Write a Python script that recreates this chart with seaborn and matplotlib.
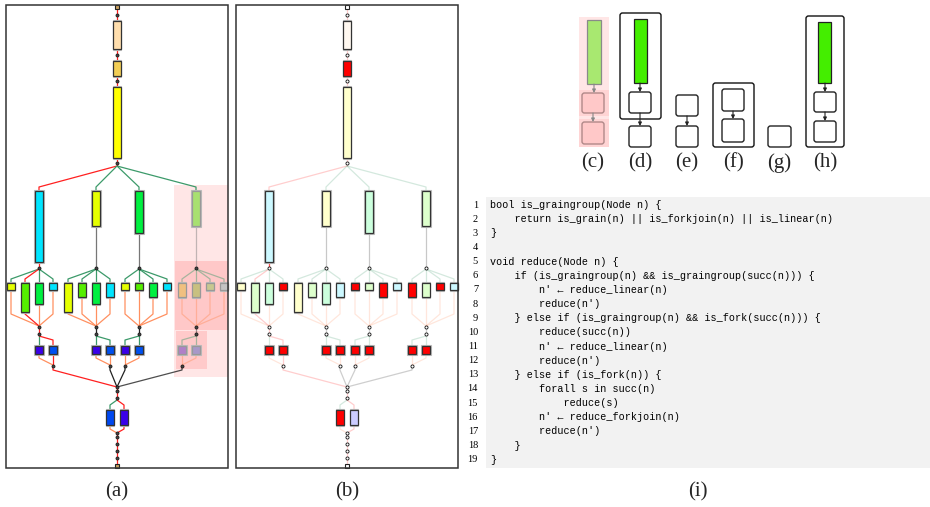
import matplotlib
matplotlib.use("Agg")
import matplotlib.pyplot as plt
import seaborn as sns
import pandas as pd
from matplotlib.patches import Rectangle, FancyBboxPatch, FancyArrowPatch

sns.set_theme(style="white")
plt.rcParams['font.family'] = ['DejaVu Sans']

# ------------------------------------------------------------------ data
PANEL_B_SHIFT = 230
CX = 117
panel_frames = [(6, 5, 228, 468), (236, 5, 458, 468)]
panel_labels = ['(a)', '(b)', '(i)']
panel_label_x = [117, 347, 698]
panel_label_y = 492

top_bar_top = [21, 61, 87]
top_bar_bottom = [49, 76, 158]
top_colors_a = ['#FFDEAD', '#F2CE55', '#FFFF00']
top_colors_b = ['#FFF8F0', '#FF0000', '#FFFFCC']
chain_dots_y = [15, 55, 81, 163]

branch_x = [39, 96, 139, 196]
branch_bottom = [262, 226, 233, 226]
branch_colors_a = ['#00E5FF', '#E5FF00', '#00F040', '#A8E070']
branch_colors_b = ['#CCF8FF', '#FFFFCC', '#CCFFDD', '#DDFFCC']
fork1_edge = ['r', 'g', 'g', 'g']

sub_x = [[11, 25, 39, 53], [68, 82, 96, 110], [125, 139, 153, 167], [182, 196, 210, 224]]
sub_bottom = [[290, 312, 304, 290], [312, 297, 304, 297], [290, 290, 297, 290], [297, 297, 290, 290]]
sub_colors_a = [['#E5FF00', '#55EE00', '#00F040', '#00E5FF'],
                ['#E5FF00', '#55EE00', '#00F040', '#00E5FF'],
                ['#E5FF00', '#55EE00', '#00F040', '#00E5FF'],
                ['#F0C080', '#C8C080', '#C8C890', '#C4C4C4']]
sub_colors_b = [['#FFFFCC', '#DDFFCC', '#CCFFDD', '#FF0000'],
                ['#FFFFCC', '#DDFFCC', '#CCFFDD', '#CCF8FF'],
                ['#FF0000', '#DDFFCC', '#FF0000', '#CCF8FF'],
                ['#FF0000', '#DDFFCC', '#FF0000', '#CCF8FF']]
subfork_edge = [['g', 'r', 'g', 'g'], ['g'] * 4, ['g'] * 4, ['g'] * 4]
subjoin_edge = [['c', 'r', 'c', 'c'], ['c'] * 4, ['c'] * 4, ['c'] * 4]

sq_x = [[39, 53], [96, 110], [125, 139], [182, 196]]
sq_join_x = [53, 110, 125, 182]
sq_colors_a = [['#3A00E8', '#0050F0'], ['#3A00E8', '#0050F0'],
               ['#3A00E8', '#0050F0'], ['#B080C8', '#A898C8']]
sq_colors_b = [['#FF0000', '#FF0000']] * 4
sqfork_edge = [['g', 'r'], ['g', 'g'], ['g', 'g'], ['g', 'g']]
sqjoin_edge = [['c', 'r'], ['c', 'c'], ['c', 'c'], ['c', 'c']]
branch_join_edge = ['r', 'k', 'k', 'k']
mid_edge = ['r', 'k', 'k', 'k']

bot_bar_x = [110, 124]
bot_colors_a = ['#0048F0', '#3A00E8']
bot_colors_b = ['#FF0000', '#CCCCFF']
bottom_dots_y = [391, 398, 433, 437, 444, 451, 458]

highlight_rects = [(174, 185, 228, 377, '#FFE6E6'), (175, 261, 228, 330, '#FFC8C8'),
                   (176, 331, 207, 369, '#FFCACA')]

# small panels (c)-(h)
small_labels = ['(c)', '(d)', '(e)', '(f)', '(g)', '(h)']
small_label_x = [593, 640, 687, 733, 779, 825]
small_label_y = 163
green_bars = [(587, 601, 20, 84, '#A8E870', '#8A8A8A'), (634, 647, 19, 83, '#44EE00', '#222222'),
              (818, 831, 22, 83, '#44EE00', '#222222')]
white_boxes = [(582, 604, 93, 113, '#FFC8C8', '#B08888'), (582, 604, 122, 144, '#FFC8C8', '#B08888'),
               (629, 651, 92, 113, 'white', '#222'), (629, 651, 126, 147, 'white', '#222'),
               (676, 698, 95, 116, 'white', '#222'), (676, 698, 126, 147, 'white', '#222'),
               (722, 744, 89, 111, 'white', '#222'), (722, 744, 119, 142, 'white', '#222'),
               (768, 791, 126, 147, 'white', '#222'),
               (814, 836, 92, 112, 'white', '#222'), (814, 836, 121, 142, 'white', '#222')]
containers = [(620, 661, 13, 119), (713, 754, 83, 147), (806, 844, 16, 147)]
arrows = [(594, 84, 93, '#888'), (593, 113, 122, '#888'), (640, 83, 92, '#222'), (640, 113, 126, '#222'),
          (687, 116, 126, '#222'), (733, 111, 119, '#222'), (825, 83, 92, '#222'), (825, 112, 121, '#222')]
c_pink = [(579, 17, 609, 147, '#FFE6E6'), (579, 90, 609, 116, '#FFD4D4'), (579, 119, 609, 147, '#FFD4D4')]

# code panel (i)
code_lines = [
    "bool is_graingroup(Node n) {",
    "    return is_grain(n) || is_forkjoin(n) || is_linear(n)",
    "}",
    "",
    "void reduce(Node n) {",
    "    if (is_graingroup(n) && is_graingroup(succ(n))) {",
    "        n\u2032 \u2190 reduce_linear(n)",
    "        reduce(n\u2032)",
    "    } else if (is_graingroup(n) && is_fork(succ(n))) {",
    "        reduce(succ(n))",
    "        n\u2032 \u2190 reduce_linear(n)",
    "        reduce(n\u2032)",
    "    } else if (is_fork(n)) {",
    "        forall s in succ(n)",
    "            reduce(s)",
    "        n\u2032 \u2190 reduce_forkjoin(n)",
    "        reduce(n\u2032)",
    "    }",
    "}",
]
code_bg = (486, 197, 930, 468)
code_x = 490
code_y0 = 205
code_dy = 14.15

EDGE_COLORS = {'r': '#FF2020', 'g': '#3C9A6A', 'c': '#FF9060', 'k': '#222222'}

# ------------------------------------------------------------------ figure
fig = plt.figure(figsize=(9.3, 5.07), dpi=100)
ax = fig.add_axes([0, 0, 1, 1])


def poly(xs, ys, key, alpha, lw=0.9, z=1):
    c = EDGE_COLORS.get(key, key)
    ax.plot(xs, ys, color=c, lw=lw, alpha=alpha, zorder=z, solid_joinstyle='round',
            solid_capstyle='butt')


def bar(xc, top, bottom, fc, ec='#333333', w=7.5, alpha=1.0, z=3):
    ax.add_patch(Rectangle((xc - w / 2 - 0.6, top - 0.6), w + 1.2, bottom - top + 1.2,
                           fc='none', ec='#BBBBBB', lw=0.8, zorder=z - 0.1, alpha=alpha))
    ax.add_patch(Rectangle((xc - w / 2, top), w, bottom - top, fc=fc, ec=ec, lw=0.9, zorder=z,
                           alpha=alpha))


for (x0, y0, x1, y1, c) in highlight_rects:
    ax.add_patch(Rectangle((x0, y0), x1 - x0, y1 - y0, fc=c, ec='none', zorder=0))

dots = []
for pi, panel in enumerate(['a', 'b']):
    ox = 0 if panel == 'a' else PANEL_B_SHIFT
    ea = 1.0 if panel == 'a' else 0.22
    cx = CX + ox
    fx0, fy0, fx1, fy1 = panel_frames[pi]
    ax.add_patch(Rectangle((fx0, fy0), fx1 - fx0, fy1 - fy0, fc='none', ec='#333333', lw=1.1, zorder=5))
    ax.text(panel_label_x[pi], panel_label_y, panel_labels[pi], ha='center', va='center',
            fontsize=15, family='Liberation Serif')

    # top chain
    poly([cx, cx], [9, 166], 'r', ea)
    tcols = top_colors_a if panel == 'a' else top_colors_b
    for t, b, c in zip(top_bar_top, top_bar_bottom, tcols):
        bar(cx, t, b, c, w=7.5)
    for y in chain_dots_y:
        dots.append((cx, y, panel))

    bcols = branch_colors_a if panel == 'a' else branch_colors_b
    scols = sub_colors_a if panel == 'a' else sub_colors_b
    qcols = sq_colors_a if panel == 'a' else sq_colors_b
    for i, bx0 in enumerate(branch_x):
        bx = bx0 + ox
        fade = (panel == 'a' and i == 3)
        a_e = 0.45 if fade else ea
        ecol = '#999999' if fade else '#333333'
        poly([cx, bx, bx], [166, 187, 191], fork1_edge[i], ea)
        bar(bx, 191, branch_bottom[i], bcols[i], ec=ecol, w=8)
        link_col = 'r' if i == 0 else ('#777777' if panel == 'a' else '#BBBBBB')
        poly([bx, bx], [branch_bottom[i], 268], link_col, a_e if panel == 'a' else 0.8)
        dots.append((bx, 268, panel))
        for k, sx0 in enumerate(sub_x[i]):
            sx = sx0 + ox
            poly([bx, sx, sx], [269, 279, 283], subfork_edge[i][k], a_e)
            bar(sx, 283, sub_bottom[i][k], scols[i][k], ec=ecol, w=7.5)
            poly([sx, sx, bx], [sub_bottom[i][k], 314, 326], subjoin_edge[i][k], a_e)
        dots.append((bx, 327, panel))
        poly([bx, bx], [327, 336], mid_edge[i], a_e)
        dots.append((bx, 334, panel))
        jx = sq_join_x[i] + ox
        for k, qx0 in enumerate(sq_x[i]):
            qx = qx0 + ox
            poly([bx, qx, qx], [336, 340, 346], sqfork_edge[i][k], a_e)
            bar(qx, 346, 354, qcols[i][k], ec=ecol, w=8)
            poly([qx, qx, jx], [354, 358, 365], sqjoin_edge[i][k], a_e)
        dots.append((jx, 366, panel))
        poly([jx, jx, cx], [366, 370, 387], branch_join_edge[i], ea if not fade else 0.8)

    dots.append((cx, 387, panel))
    poly([cx, cx], [387, 400], 'r', ea)
    bots = bot_colors_a if panel == 'a' else bot_colors_b
    for k, x0 in enumerate(bot_bar_x):
        x = x0 + ox
        poly([cx, x, x], [400, 405, 410], 'g' if k == 0 else 'r', ea)
        bar(x, 410, 425, bots[k], w=7.5)
        poly([x, x, cx], [425, 429, 433], 'c' if k == 0 else 'r', ea)
    poly([cx, cx], [433, 464], 'r', ea)
    for y in bottom_dots_y:
        dots.append((cx, y, panel))
    # source / sink
    sc = '#C8A060' if panel == 'a' else 'white'
    for y in (7, 466):
        ax.add_patch(Rectangle((cx - 2.2, y - 2.2), 4.4, 4.4, fc=sc, ec='#222222', lw=0.8, zorder=4))

dots_df = pd.DataFrame(dots, columns=['x', 'y', 'panel'])
sns.scatterplot(data=dots_df[dots_df.panel == 'a'], x='x', y='y', ax=ax, s=5, marker='o',
                color='#444444', edgecolor='#111111', linewidth=0.5, zorder=6, legend=False)
sns.scatterplot(data=dots_df[dots_df.panel == 'b'], x='x', y='y', ax=ax, s=5, marker='o',
                color='white', edgecolor='#111111', linewidth=0.6, zorder=6, legend=False)

# ---- small panels (c)-(h)
for (x0, y0, x1, y1, c) in c_pink:
    ax.add_patch(Rectangle((x0, y0), x1 - x0, y1 - y0, fc=c, ec='none', zorder=0))
for (x0, x1, y0, y1) in containers:
    ax.add_patch(FancyBboxPatch((x0, y0), x1 - x0, y1 - y0,
                                boxstyle="round,pad=0,rounding_size=2.5",
                                fc='none', ec='#111111', lw=1.0, zorder=2))
for (x0, x1, y0, y1, fc, ec) in green_bars:
    ax.add_patch(Rectangle((x0, y0), x1 - x0, y1 - y0, fc=fc, ec=ec, lw=0.9, zorder=3))
for (x0, x1, y0, y1, fc, ec) in white_boxes:
    ax.add_patch(FancyBboxPatch((x0, y0), x1 - x0, y1 - y0,
                                boxstyle="round,pad=0,rounding_size=2.5",
                                fc=fc, ec=ec, lw=1.0, zorder=3))
for (x, ys, ye, c) in arrows:
    ax.add_patch(FancyArrowPatch((x, ys), (x, ye), arrowstyle='-|>', mutation_scale=5,
                                 color=c, lw=0.8, shrinkA=0, shrinkB=0, zorder=4))
for lab, x in zip(small_labels, small_label_x):
    ax.text(x, small_label_y, lab, ha='center', va='center', fontsize=15, family='Liberation Serif')

# ---- code panel (i)
x0, y0, x1, y1 = code_bg
ax.add_patch(Rectangle((x0, y0), x1 - x0, y1 - y0, fc='#F2F2F2', ec='none', zorder=0))
for i, line in enumerate(code_lines):
    y = code_y0 + i * code_dy
    ax.text(478, y, str(i + 1), ha='right', va='center', fontsize=7.5, family='Liberation Serif',
            color='black')
    if line:
        ax.text(code_x, y, line, ha='left', va='center', fontsize=7.25, color='black',
                family=['Liberation Mono', 'DejaVu Sans Mono', 'DejaVu Sans'])
ax.text(panel_label_x[2], panel_label_y, panel_labels[2], ha='center', va='center',
        fontsize=15, family='Liberation Serif')

ax.set_xlim(0, 930)
ax.set_ylim(507, 0)
ax.set_axis_off()
fig.savefig('out.png', dpi=100)
